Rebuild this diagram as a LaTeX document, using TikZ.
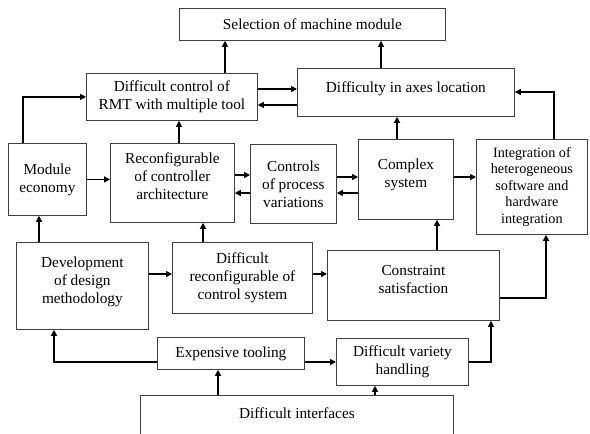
\documentclass[tikz,border=0pt]{standalone}
\usepackage{fontspec}
\setmainfont{Liberation Serif}
\newfontfamily\tnr{Liberation Serif}
\usetikzlibrary{arrows.meta}
\begin{document}
\begin{tikzpicture}[x=1pt,y=-1pt,
  box/.style={draw=black!75,line width=0.8pt,inner sep=0pt,align=center,anchor=north west,
    font=\tnr\fontsize{15.3}{18}\selectfont},
  arr/.style={line width=1.3pt,-{Triangle[length=6pt,width=6pt]}}]
\useasboundingbox (0,0) rectangle (590,434);
\clip (0,0) rectangle (590,434);
\fill[white] (0,0) rectangle (590,434);
% nodes
\node[box,minimum width=266,minimum height=32] (sel) at (179,8) {Selection of machine module};
\node[box,minimum width=171,minimum height=47] (dc) at (86,73) {Difficult control of\\RMT with multiple tool};
\node[box,minimum width=217,minimum height=48] (ax) at (297,68) {Difficulty in axes location\\[-13pt]\strut};
\node[box,minimum width=78,minimum height=72] (me) at (8,143) {Module\\economy};
\node[box,minimum width=124,minimum height=79] (rc) at (110,143) {Reconfigurable\\of controller\\architecture\\[-9pt]\strut};
\node[box,minimum width=86,minimum height=79] (cp) at (250,144) {Controls\\of process\\variations};
\node[box,minimum width=95,minimum height=80] (cs) at (358,139) {Complex\\system\\[-10pt]\strut};
\node[box,minimum width=111,minimum height=95,font=\tnr\fontsize{14.2}{16.5}\selectfont] (ih) at (476,139) {Integration of\\heterogeneous\\software and\\hardware\\integration};
\node[box,minimum width=132,minimum height=87] (dm) at (16,242) {Development\\of design\\methodology\\[-12pt]\strut};
\node[box,minimum width=140,minimum height=71] (dr) at (172,242) {Difficult\\reconfigurable of\\control system};
\node[box,minimum width=172,minimum height=70] (cn) at (327,250) {Constraint\\satisfaction\\[-11pt]\strut};
\node[box,minimum width=147,minimum height=32] (et) at (157,337) {Expensive tooling};
\node[box,minimum width=132,minimum height=47] (dv) at (336,338) {Difficult variety\\handling};
\node[box,draw=none,minimum width=313,minimum height=36] (di) at (140,395) {Difficult interfaces};
\draw[draw=black!75,line width=0.8pt] ([yshift=-30pt]di.south west) |- (di.north east) -- ([yshift=-30pt]di.south east);
% column / row helper coordinates
\coordinate (c23) at (23,0);
\coordinate (c39) at (39,0);
\coordinate (c179) at (179,0);
\coordinate (c203) at (203,0);
\coordinate (c218) at (218,0);
\coordinate (c225) at (225,0);
\coordinate (c375) at (375,0);
\coordinate (c381) at (381,0);
\coordinate (c397) at (397,0);
\coordinate (c437) at (437,0);
\coordinate (c54) at (54,0);
\coordinate (c491) at (491,0);
\coordinate (c546) at (546,0);
\coordinate (c554) at (554,0);
\coordinate (r89) at (0,89);
\coordinate (r105) at (0,105);
\coordinate (r175) at (0,175);
\coordinate (r177) at (0,177);
\coordinate (r193) at (0,193);
\coordinate (r274) at (0,274);
\coordinate (r298) at (0,298);
\coordinate (r362) at (0,362);
\coordinate (r92) at (0,92);
% connectors
\draw[arr] (dc.north -| c225) -- (sel.south -| c225);
\draw[arr] (ax.north -| c381) -- (sel.south -| c381);
\draw[arr] (dc.east |- r89) -- (ax.west |- r89);
\draw[arr] (ax.west |- r105) -- (dc.east |- r105);
\draw[arr] (me.north -| c23) |- (dc.west);
\draw[arr] (rc.north -| c179) -- (dc.south -| c179);
\draw[arr] (me.east) -- (me.east -| rc.west);
\draw[arr] (rc.east |- r175) -- (cp.west |- r175);
\draw[arr] (cp.west |- r193) -- (rc.east |- r193);
\draw[arr] (cp.east |- r177) -- (cs.west |- r177);
\draw[arr] (cs.west |- r193) -- (cp.east |- r193);
\draw[arr] (cs.north -| c397) -- (ax.south -| c397);
\draw[arr] (cs.east |- r177) -- (ih.west |- r177);
\draw[arr] (ih.north -| c554) |- (ax.east |- r92);
\draw[arr] (dm.north -| c39) -- (me.south -| c39);
\draw[arr] (dm.east |- r274) -- (dr.west |- r274);
\draw[arr] (dr.north -| c203) -- (rc.south -| c203);
\draw[arr] (dr.east |- r274) -- (cn.west |- r274);
\draw[arr] (cn.north -| c437) -- (cs.south -| c437);
\draw[arr] (cn.east |- r298) -| (ih.south -| c546);
\draw[arr] (et.west |- r362) -| (dm.south -| c54);
\draw[arr] (et.east |- r362) -- (dv.west |- r362);
\draw[arr] (dv.east |- r362) -| (cn.south -| c491);
\draw[arr] (di.north -| c218) -- (et.south -| c218);
\draw[arr] (di.north -| c375) -- (dv.south -| c375);
\end{tikzpicture}
\end{document}
